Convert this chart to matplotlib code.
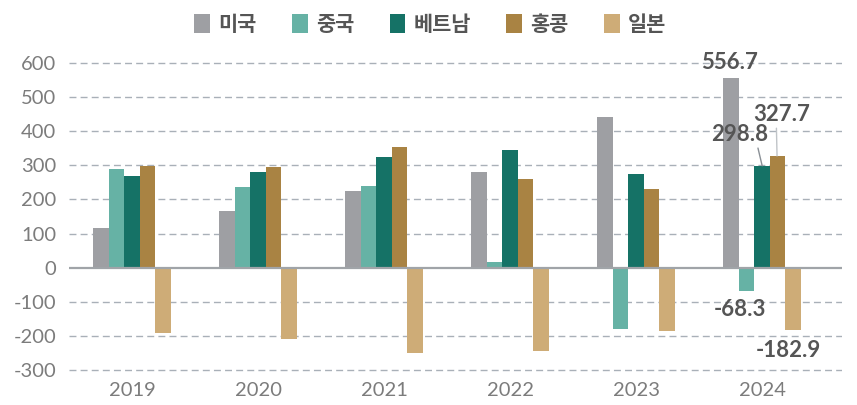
import numpy as np
import matplotlib
matplotlib.use("Agg")
import matplotlib.pyplot as plt

years = ["2019", "2020", "2021", "2022", "2023", "2024"]
countries = ["미국", "중국", "베트남", "홍콩", "일본"]
usa = [115, 165, 226, 282, 443, 556.7]
china = [288, 238, 241, 16, -181, -68.3]
vietnam = [270, 282, 326, 344, 276, 298.8]
hongkong = [297, 294, 353, 259, 232, 327.7]
japan = [-191, -208, -249, -243, -187, -182.9]
yticks = [-300, -200, -100, 0, 100, 200, 300, 400, 500, 600]

colors = ["#9E9FA3", "#66B2A5", "#157266", "#A98343", "#CEAC77"]
series = [usa, china, vietnam, hongkong, japan]

plt.rcParams["font.family"] = ["Lato", "Noto Sans CJK KR", "DejaVu Sans"]

fig = plt.figure(figsize=(8.57, 4.05), dpi=100)
ax = fig.add_axes([0.0805, 0.0696, 0.9015, 0.7915])

x = np.arange(len(years))
w = 0.123
for i, (vals, col, name) in enumerate(zip(series, colors, countries)):
    ax.bar(x + (i - 2) * w, vals, w, color=col, label=name, zorder=3)

ax.set_xlim(-0.5, 5.63)
ax.set_ylim(-320, 620)
ax.set_yticks(yticks)
ax.set_yticklabels([str(t) for t in yticks])
ax.set_xticks(x)
ax.set_xticklabels(years)
for s in ax.spines.values():
    s.set_visible(False)
ax.tick_params(length=0, labelsize=14.5, labelcolor="#7c7c7c")
ax.tick_params(axis="y", pad=9)
ax.tick_params(axis="x", pad=4)

for t in yticks:
    if t == 0:
        ax.axhline(0, color="#A0A4A8", lw=1.6, zorder=4)
    else:
        ax.axhline(t, color="#A9B0B8", lw=1, ls=(0, (5, 3)), zorder=1)

# labels on 2024
lab_kw = dict(textcoords="offset pixels", ha="center", va="center",
              fontsize=16, fontweight="bold", color="#555555", zorder=5)
last = len(years) - 1
ax.annotate(f"{usa[last]:.1f}", xy=(x[last] - 2 * w, usa[last]), xytext=(-2, 15), **lab_kw)
ax.annotate(f"{china[last]:.1f}", xy=(x[last] - w, china[last]), xytext=(-7, -19), **lab_kw)
ax.annotate(f"{japan[last]:.1f}", xy=(x[last] + 2 * w, japan[last]), xytext=(-5, -20), **lab_kw)
ax.annotate(f"{vietnam[last]:.1f}", xy=(x[last], vietnam[last]), xytext=(-22, 31),
            arrowprops=dict(arrowstyle="-", color="#8A9096", lw=1,
                            shrinkA=0, shrinkB=0, relpos=(0.8, 0)), **lab_kw)
ax.annotate(f"{hongkong[last]:.1f}", xy=(x[last] + w - 0.005, hongkong[last]), xytext=(5, 41),
            arrowprops=dict(arrowstyle="-", color="#C0C4C8", lw=1,
                            shrinkA=0, shrinkB=0, relpos=(0.4, 0)), **lab_kw)

leg = fig.legend(loc="upper center", bbox_to_anchor=(0.502, 1.012), ncol=5, frameon=False,
                 handlelength=0.75, handleheight=1.0, handletextpad=0.4,
                 columnspacing=1.7, prop={"family": "Noto Sans CJK KR", "size": 15,
                                         "weight": "bold"})
for t in leg.get_texts():
    t.set_color("#555555")

fig.savefig("out.png", dpi=100)
